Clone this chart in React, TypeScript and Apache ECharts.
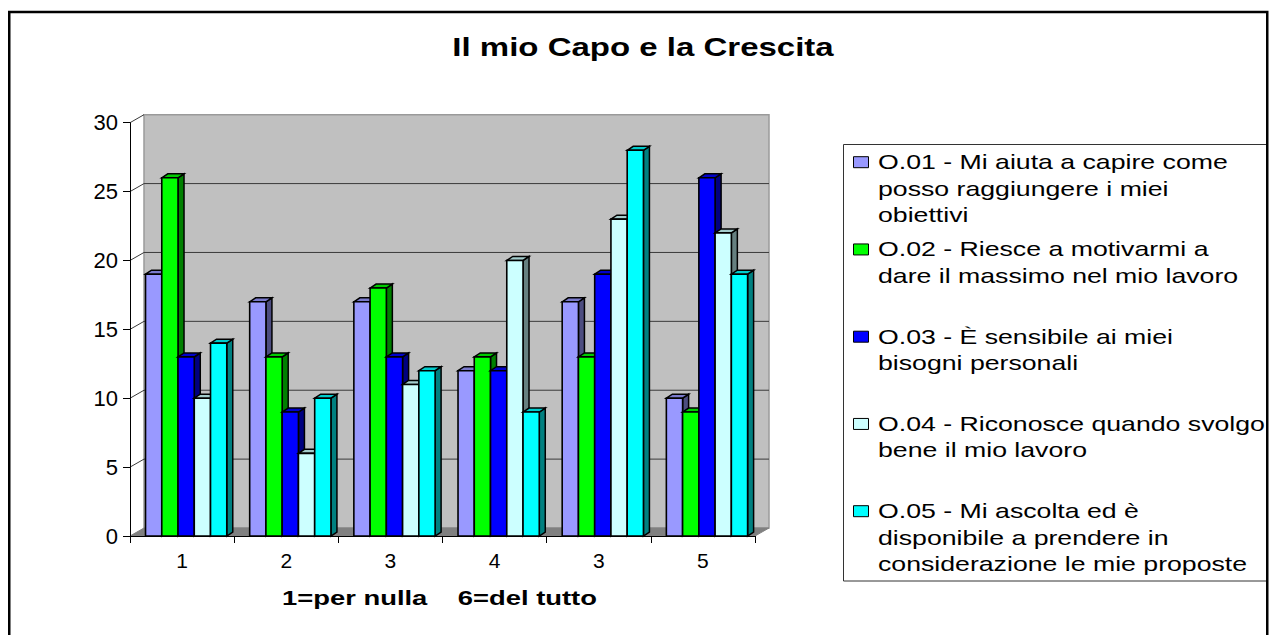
import React, { useEffect, useRef } from "react";
import * as echarts from "echarts";

// ---- data ----
const categories = ["1", "2", "3", "4", "3", "5"];
const seriesNames = [
  "O.01 - Mi aiuta a capire come\nposso raggiungere i miei\nobiettivi",
  "O.02 - Riesce a motivarmi a\ndare il massimo nel mio lavoro",
  "O.03 - È sensibile ai miei\nbisogni personali",
  "O.04 - Riconosce quando svolgo\nbene il mio lavoro",
  "O.05 - Mi ascolta ed è\ndisponibile a prendere in\nconsiderazione le mie proposte",
];
const o01 = [19, 17, 17, 12, 17, 10];
const o02 = [26, 13, 18, 13, 13, 9];
const o03 = [13, 9, 13, 12, 19, 26];
const o04 = [10, 6, 11, 20, 23, 22];
const o05 = [14, 10, 12, 9, 28, 19];
const yTicks = [0, 5, 10, 15, 20, 25, 30];
const chartTitle = "Il mio Capo e la Crescita";
const xAxisTitle = "1=per nulla    6=del tutto";

const seriesValues = [o01, o02, o03, o04, o05];

// ---- styles ----
const faceColors = ["#9999ff", "#00ff00", "#0000ff", "#ccffff", "#00ffff"];
const sideColors = ["#4d4d80", "#008000", "#000080", "#668080", "#008080"];
const topColors = ["#7a7acc", "#00cc00", "#0000cc", "#a3cccc", "#00cccc"];
const FONT = '"Liberation Sans", Arial, sans-serif';
const WALL_DX = 14;
const WALL_DY = -8;
const BAR_DX = 6;
const BAR_DY = -4;
const BAR_OFFSET = 0.149;
const BAR_W = 0.156;
const STRETCH = 1.27;

export default function App() {
  const ref = useRef<HTMLDivElement>(null);

  useEffect(() => {
    if (!ref.current) return;
    const chart = echarts.init(ref.current, undefined, { renderer: "svg" });

    const wallSeries = {
      type: "custom",
      silent: true,
      clip: false,
      z: 1,
      data: [[0, 0]],
      encode: { x: 0, y: 1 },
      renderItem: (params: any, api: any) => {
        const cs = params.coordSys;
        const x0 = cs.x;
        const x1 = cs.x + cs.width;
        const y0 = api.coord([0, yTicks[0]])[1];
        const yT = api.coord([0, yTicks[yTicks.length - 1]])[1];
        const children: any[] = [];
        children.push({
          type: "polygon",
          shape: {
            points: [
              [x0 + WALL_DX, yT + WALL_DY],
              [x1 + WALL_DX, yT + WALL_DY],
              [x1 + WALL_DX, y0 + WALL_DY],
              [x0 + WALL_DX, y0 + WALL_DY],
            ],
          },
          style: { fill: "#c0c0c0", stroke: "#9a9a9a", lineWidth: 1.5 },
        });
        children.push({
          type: "polygon",
          shape: {
            points: [
              [x0, y0],
              [x1, y0],
              [x1 + WALL_DX, y0 + WALL_DY],
              [x0 + WALL_DX, y0 + WALL_DY],
            ],
          },
          style: { fill: "#808080", stroke: "#808080", lineWidth: 1 },
        });
        yTicks.forEach((v, k) => {
          if (k === 0) return;
          const y = api.coord([0, v])[1];
          const last = k === yTicks.length - 1;
          if (!last) {
            children.push({
              type: "line",
              shape: { x1: x0 + WALL_DX, y1: y + WALL_DY, x2: x1 + WALL_DX, y2: y + WALL_DY },
              style: { stroke: "#3a3a3a", lineWidth: 1 },
            });
          }
          children.push({
            type: "line",
            shape: { x1: x0, y1: y, x2: x0 + WALL_DX, y2: y + WALL_DY },
            style: { stroke: "#3a3a3a", lineWidth: 1 },
          });
        });
        return { type: "group", children };
      },
    };

    const barSeries = seriesValues.map((vals, s) => ({
      type: "custom",
      name: seriesNames[s],
      clip: false,
      z: 2,
      data: vals.map((v, i) => [i, v]),
      encode: { x: 0, y: 1 },
      renderItem: (params: any, api: any) => {
        const i = api.value(0);
        const v = api.value(1);
        const base = api.coord([i, 0]);
        const top = api.coord([i, v]);
        const band = api.size([1, 0])[0];
        const w = band * BAR_W;
        const left = base[0] - band / 2 + band * BAR_OFFSET + s * w;
        const yt = top[1];
        const yb = base[1];
        return {
          type: "group",
          children: [
            {
              type: "polygon",
              shape: {
                points: [
                  [left + w, yt],
                  [left + w + BAR_DX, yt + BAR_DY],
                  [left + w + BAR_DX, yb + BAR_DY],
                  [left + w, yb],
                ],
              },
              style: { fill: sideColors[s], stroke: "#000", lineWidth: 1.5 },
            },
            {
              type: "polygon",
              shape: {
                points: [
                  [left, yt],
                  [left + BAR_DX, yt + BAR_DY],
                  [left + w + BAR_DX, yt + BAR_DY],
                  [left + w, yt],
                ],
              },
              style: { fill: topColors[s], stroke: "#000", lineWidth: 1.5 },
            },
            {
              type: "rect",
              shape: { x: left, y: yt, width: w, height: yb - yt },
              style: { fill: faceColors[s], stroke: "#000", lineWidth: 1.6 },
            },
          ],
        };
      },
    }));

    // legend drawn as graphic to keep Excel-like layout
    const legendTop = 161.7;
    const legendStep = 87.25;
    const lineH = 26.4;
    const legendItems: any[] = [];
    seriesNames.forEach((name, s) => {
      const cy = legendTop + s * legendStep;
      legendItems.push({
        type: "rect",
        shape: { x: 853.5, y: cy - 5, width: 15, height: 11 },
        style: { fill: faceColors[s], stroke: "#000", lineWidth: 1 },
      });
      legendItems.push({
        type: "text",
        x: 878,
        y: cy - lineH / 2,
        scaleX: STRETCH,
        style: {
          text: name,
          font: `21px ${FONT}`,
          lineHeight: lineH,
          fill: "#000",
          textAlign: "left",
          textVerticalAlign: "top",
        },
      });
    });

    chart.setOption({
      animation: false,
      backgroundColor: "#ffffff",
      grid: { left: 130, right: 515, top: 122.7, bottom: 99, containLabel: false },
      xAxis: {
        type: "category",
        data: categories,
        z: 5,
        axisLine: { show: true, lineStyle: { color: "#000", width: 1 } },
        axisTick: { show: true, length: 7, interval: 0, alignWithLabel: false, lineStyle: { color: "#000" } },
        axisLabel: { color: "#000", fontSize: 21, fontFamily: FONT, margin: 14, interval: 0 },
        splitLine: { show: false },
      },
      yAxis: {
        type: "value",
        min: 0,
        max: 30,
        interval: 5,
        z: 5,
        axisLine: { show: true, lineStyle: { color: "#000", width: 1 } },
        axisTick: { show: true, length: 7, lineStyle: { color: "#000" } },
        axisLabel: { color: "#000", fontSize: 22, fontFamily: FONT, margin: 12 },
        splitLine: { show: false },
      },
      series: [wallSeries, ...barSeries],
      graphic: [
        {
          type: "rect",
          silent: true,
          shape: { x: 9.25, y: 12, width: 1258, height: 640 },
          style: { fill: "none", stroke: "#000", lineWidth: 2.5 },
          z: 10,
        },
        {
          type: "text",
          x: 643,
          y: 47,
          scaleX: 1.32,
          style: {
            text: chartTitle,
            font: `bold 25px ${FONT}`,
            fill: "#000",
            textAlign: "center",
            textVerticalAlign: "middle",
          },
        },
        {
          type: "text",
          x: 282,
          y: 598,
          scaleX: 1.37,
          style: {
            text: xAxisTitle,
            font: `bold 20px ${FONT}`,
            fill: "#000",
            textAlign: "left",
            textVerticalAlign: "middle",
          },
        },
        {
          type: "rect",
          silent: true,
          shape: { x: 843.5, y: 144.5, width: 424, height: 436.5 },
          style: { fill: "#fff", stroke: "#333", lineWidth: 1 },
        },
        ...legendItems,
      ],
    });

    return () => chart.dispose();
  }, []);

  return (
    <div
      ref={ref}
      style={{ position: "absolute", left: 0, top: 0, width: 1270, height: 635 }}
    />
  );
}
